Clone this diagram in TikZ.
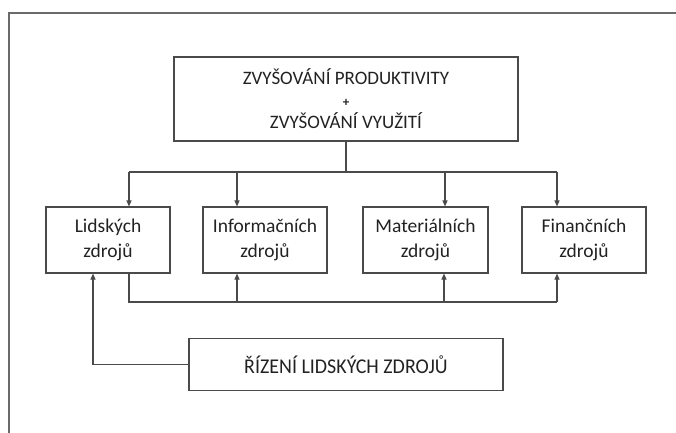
\documentclass[tikz,border=0pt]{standalone}
\usepackage{fontspec}
\setmainfont{Carlito}
\newfontfamily\capsfontnarrow[FakeStretch=0.95]{Carlito}
\usetikzlibrary{arrows.meta}
\definecolor{ink}{HTML}{222222}
\definecolor{wire}{HTML}{4A4A4A}
\definecolor{framegray}{HTML}{6A6A6A}
\tikzset{
  box/.style={draw=wire, line width=1.1pt, rectangle, inner sep=0pt, align=center, text=ink},
  res/.style={box, minimum width=124pt, minimum height=66pt,
    font=\fontsize{19.5}{24.5}\selectfont},
  wireline/.style={draw=wire, line width=1.1pt},
  arr/.style={wireline, -{Triangle[length=6pt, width=5pt]}},
}
\begin{document}
\begin{tikzpicture}[x=1pt, y=-1pt]
  \useasboundingbox (0,0) rectangle (676,432);
  % outer frame, open towards the right and the bottom
  \draw[framegray, line width=1.4pt] (9,440) -- (9,13) -- (690,13);

  % goal box
  \node[box, minimum width=344pt, minimum height=84pt,
        font=\fontsize{19}{22.5}\selectfont] (goal) at (346,99)
    {ZVYŠOVÁNÍ PRODUKTIVITY\\[-1pt]{\fontsize{13}{13}\selectfont\bfseries +}\\ZVYŠOVÁNÍ VYUŽITÍ};

  % resource boxes
  \node[res] (hum) at (108,240) {Lidských\\zdrojů};
  \node[res] (inf) at (265,240) {Informačních\\zdrojů};
  \node[res, minimum width=125pt] (mat) at (425.5,240) {Materiálních\\zdrojů};
  \node[res] (fin) at (584,240) {Finančních\\zdrojů};

  % management box
  \node[box, minimum width=314pt, minimum height=52pt,
        font=\capsfontnarrow\fontsize{21}{24}\selectfont] (hrm) at (346,364.5)
    {ŘÍZENÍ LIDSKÝCH ZDROJŮ};

  % upper distribution bus
  \coordinate (d1) at (129,172);
  \coordinate (d2) at (237,172);
  \coordinate (d3) at (445,172);
  \coordinate (d4) at (557,172);
  \draw[wireline] (goal.south) -- (goal.south |- d1);
  \draw[wireline] (d1) -- (d4);
  \draw[arr] (d1) -- (d1 |- hum.north);
  \draw[arr] (d2) -- (d2 |- inf.north);
  \draw[arr] (d3) -- (d3 |- mat.north);
  \draw[arr] (d4) -- (d4 |- fin.north);

  % lower bus from the human resources box
  \coordinate (u1) at (129,302);
  \coordinate (u2) at (237,302);
  \coordinate (u3) at (444,302);
  \coordinate (u4) at (557,302);
  \draw[wireline] (u1 |- hum.south) -- (u1) -- (u4);
  \draw[arr] (u2) -- (u2 |- inf.south);
  \draw[arr] (u3) -- (u3 |- mat.south);
  \draw[arr] (u4) -- (u4 |- fin.south);

  % feedback from management to human resources
  \coordinate (fb) at (93,364.5);
  \draw[arr] (hrm.west) -- (fb) -- (fb |- hum.south);
\end{tikzpicture}
\end{document}
